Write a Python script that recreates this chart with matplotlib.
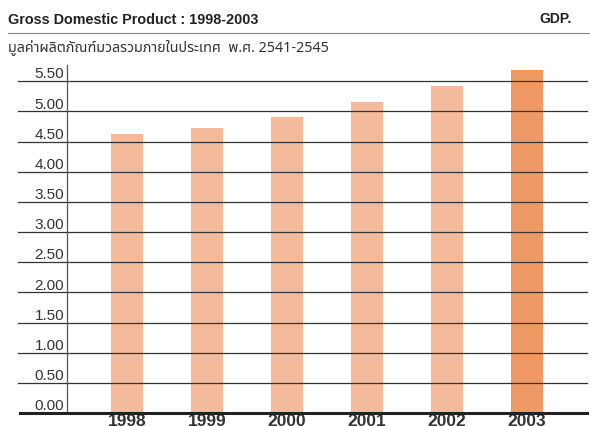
import matplotlib
matplotlib.use("Agg")
import matplotlib.pyplot as plt
from matplotlib.transforms import ScaledTranslation

years = ["1998", "1999", "2000", "2001", "2002", "2003"]
gdp = [4.62, 4.73, 4.90, 5.15, 5.42, 5.68]
yticks = [0.0, 0.5, 1.0, 1.5, 2.0, 2.5, 3.0, 3.5, 4.0, 4.5, 5.0, 5.5]

title = "Gross Domestic Product : 1998-2003"
subtitle = "มูลค่าผลิตภัณฑ์มวลรวมภายในประเทศ  พ.ศ. 2541-2545"

plt.rcParams["font.family"] = ["Liberation Sans", "DejaVu Sans"]

fig = plt.figure(figsize=(5.9, 4.26), dpi=100)
ax = fig.add_axes([67/590, 13/426, 520/590, 348/426])

colors = ["#f3bb9c"] * 5 + ["#ef9a64"]
x = list(range(len(years)))
ax.bar(x, gdp, width=0.39, color=colors, zorder=1)

ax.set_xlim(-0.75, 5.75)
ax.set_ylim(0, 5.77)

# grid lines run out past the axis, under the labels
for v in yticks[1:]:
    ax.axhline(v, xmin=-0.094, xmax=1, color="#333333", lw=0.9, clip_on=False, zorder=2)
ax.axhline(0, xmin=-0.09, xmax=1, color="#222222", lw=2.2, clip_on=False, zorder=3)

for s in ["top", "right", "bottom"]:
    ax.spines[s].set_visible(False)
ax.spines["left"].set_color("#555555")
ax.spines["left"].set_linewidth(0.9)

ax.set_yticks(yticks)
ax.set_yticklabels(["%.2f" % v for v in yticks], fontsize=11, color="#333333")
ax.tick_params(axis="y", length=0, pad=2)
off = ScaledTranslation(0, 6/72, fig.dpi_scale_trans)
for lab in ax.get_yticklabels():
    lab.set_transform(lab.get_transform() + off)

# year labels sit right under the base line, as in the scan
ax.set_xticks(x)
ax.set_xticklabels(years, fontsize=12.5, fontweight="bold", color="#333333")
ax.tick_params(axis="x", length=0, pad=0.5)

fig.text(8/590, 1 - 20/426, title, fontsize=10.4, fontweight="bold", color="#222222", va="center")
fig.text(572/590, 1 - 19/426, "GDP.", fontsize=10, fontweight="bold", color="#222222",
         va="center", ha="right")
fig.add_artist(plt.Line2D([8/590, 590/590], [1 - 33/426, 1 - 33/426], color="#8a8a8a", lw=0.8))
fig.text(8/590, 1 - 47/426, subtitle, fontsize=10.3, color="#333333", va="center",
         family=["Noto Sans Thai", "Liberation Sans"])

fig.savefig("out.png", dpi=100)
